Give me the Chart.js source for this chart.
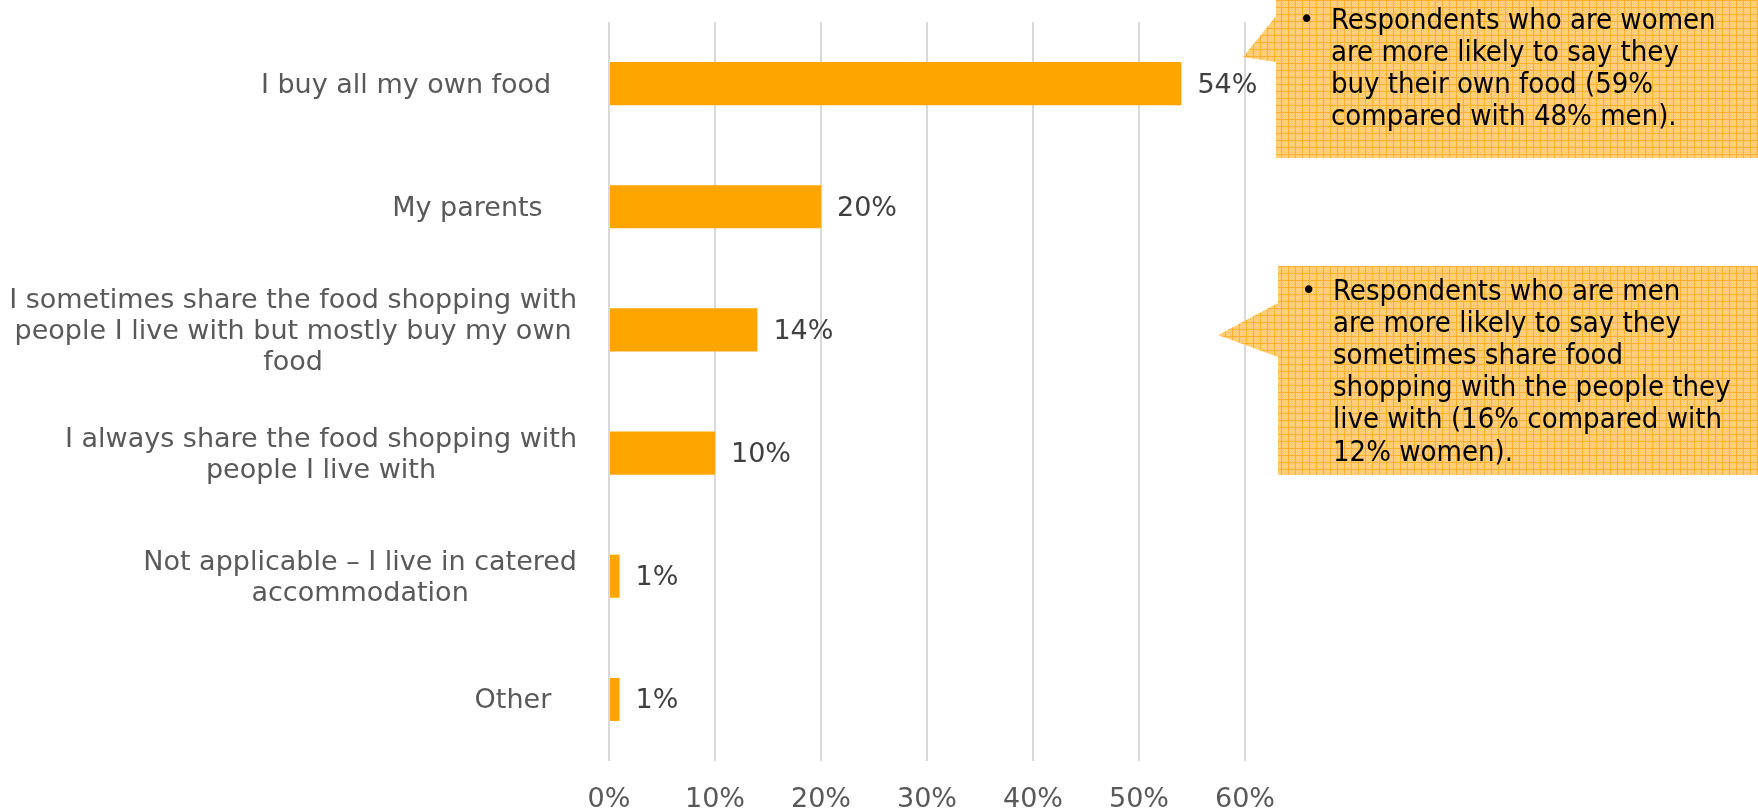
<!DOCTYPE html>
<html>
<head>
<meta charset="utf-8">
<script src="https://cdn.jsdelivr.net/npm/chart.js@4/dist/chart.umd.min.js"></script>
<style>
html,body{margin:0;padding:0;background:#fff;}
#wrap{width:1758px;height:811px;position:relative;}
</style>
</head>
<body>
<div id="wrap"><canvas id="c" width="1758" height="811"></canvas></div>
<script>
const categories = [
  ["I buy all my own food   "],
  ["My parents    "],
  ["I sometimes share the food shopping with", "people I live with but mostly buy my own", "food"],
  ["I always share the food shopping with", "people I live with"],
  ["Not applicable \u2013 I live in catered", "accommodation"],
  ["Other   "]
];
const values = [54, 20, 14, 10, 1, 1];
const tickValues = [0, 10, 20, 30, 40, 50, 60];
const callout1 = ["Respondents who are women", "are more likely to say they", "buy their own food (59%", "compared with 48% men)."];
const callout2 = ["Respondents who are men", "are more likely to say they", "sometimes share food", "shopping with the people they", "live with (16% compared with", "12% women)."];

const FONT = '"DejaVu Sans", Verdana, sans-serif';
const NOTE_FONT = '"DejaVu Sans Condensed", "DejaVu Sans", sans-serif';
const FS = 27;

function makePattern(ctx){
  const p = document.createElement('canvas');
  p.width = 7; p.height = 7;
  const g = p.getContext('2d');
  g.fillStyle = '#FFD48A';
  g.fillRect(0,0,7,7);
  g.fillStyle = '#FFC966';
  for (let i=0;i<7;i++) for (let j=0;j<7;j++) if ((i+j)%2===0) g.fillRect(i,j,1,1);
  g.fillStyle = '#FFAF30';
  g.fillRect(0,0,7,1);
  g.fillRect(0,0,1,7);
  return ctx.createPattern(p,'repeat');
}

function drawCallout(ctx, box, tri, bulletX, textX, lineY0, lineH, lines){
  ctx.save();
  ctx.fillStyle = makePattern(ctx);
  ctx.beginPath();
  ctx.moveTo(box.x, box.y);
  ctx.lineTo(box.x + box.w, box.y);
  ctx.lineTo(box.x + box.w, box.y + box.h);
  ctx.lineTo(box.x, box.y + box.h);
  ctx.lineTo(tri[2][0], tri[2][1]);
  ctx.lineTo(tri[1][0], tri[1][1]);
  ctx.lineTo(tri[0][0], tri[0][1]);
  ctx.closePath();
  ctx.fill();
  ctx.fillStyle = '#000000';
  ctx.textBaseline = 'middle';
  ctx.textAlign = 'left';
  ctx.font = '26px ' + FONT;
  ctx.fillText('\u2022', bulletX, lineY0);
  ctx.font = '29px ' + NOTE_FONT;
  lines.forEach((t, i) => ctx.fillText(t, textX, lineY0 + i * lineH));
  ctx.restore();
}

const overlay = {
  id: 'overlay',
  afterDatasetsDraw(chart){
    const ctx = chart.ctx;
    const ys = chart.scales.y, xs = chart.scales.x;
    const meta = chart.getDatasetMeta(0);
    ctx.save();
    ctx.font = FS + 'px ' + FONT;
    ctx.fillStyle = '#404040';
    ctx.textBaseline = 'middle';
    ctx.textAlign = 'left';
    meta.data.forEach((bar, i) => {
      ctx.fillText(values[i] + '%', bar.x + 16, bar.y + 2);
    });
    // category labels: block right-aligned to the axis, lines centred within block
    ctx.fillStyle = '#595959';
    ctx.textAlign = 'center';
    const lh = 31;
    const right = xs.left - 32;
    categories.forEach((lines, i) => {
      const y = ys.getPixelForTick(i);
      const w = Math.max(...lines.map(t => ctx.measureText(t).width));
      const cx = right - w / 2;
      const y0 = y - (lines.length - 1) * lh / 2 + 2;
      lines.forEach((t, k) => {
        const trail = ctx.measureText(t).width - ctx.measureText(t.trim()).width;
        ctx.fillText(t.trim(), cx - trail / 2, y0 + k * lh);
      });
    });
    ctx.restore();
  },
  afterDraw(chart){
    const ctx = chart.ctx;
    drawCallout(ctx, {x:1276, y:0, w:490, h:158}, [[1276,16],[1243,57],[1276,62]], 1299, 1331, 21, 32, callout1);
    drawCallout(ctx, {x:1278, y:266, w:490, h:209}, [[1278,303],[1218,335],[1278,357]], 1301, 1333, 292, 32.2, callout2);
  }
};

new Chart(document.getElementById('c'), {
  type: 'bar',
  data: {
    labels: categories,
    datasets: [{
      data: values,
      backgroundColor: '#FFA500',
      borderWidth: 0,
      barPercentage: 0.35,
      categoryPercentage: 1
    }]
  },
  options: {
    indexAxis: 'y',
    responsive: false,
    animation: false,
    events: [],
    layout: { padding: { left: 0, right: 513, top: 22, bottom: 0 } },
    plugins: { legend: { display: false }, tooltip: { enabled: false } },
    scales: {
      x: {
        min: 0, max: 60,
        afterBuildTicks(scale){ scale.ticks = tickValues.map(v => ({value: v})); },
        afterFit(scale){ scale.height = 50; },
        border: { display: false },
        grid: { color: '#D9D9D9', lineWidth: 2, drawTicks: false, tickLength: 0 },
        ticks: {
          padding: 23,
          color: '#595959',
          font: { family: FONT, size: FS },
          callback: v => v + '%'
        }
      },
      y: {
        afterFit(scale){ scale.width = 609; },
        border: { display: false },
        grid: { display: false },
        ticks: { display: false }
      }
    }
  },
  plugins: [overlay]
});
</script>
</body>
</html>
